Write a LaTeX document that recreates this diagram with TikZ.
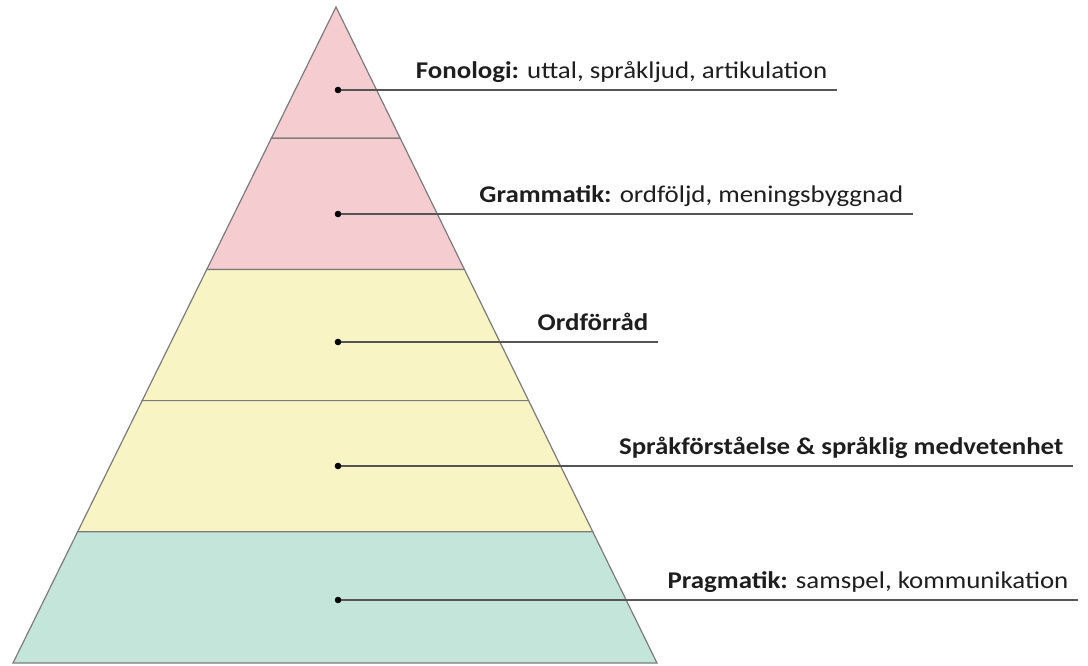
\documentclass[tikz,border=0pt]{standalone}
\usepackage{fontspec}
\setmainfont{Carlito}[FakeStretch=1.12]
\usetikzlibrary{calc}

\definecolor{rosa}{HTML}{F5CDD0}
\definecolor{gul}{HTML}{F8F4C4}
\definecolor{mint}{HTML}{C4E5D9}
\definecolor{kant}{HTML}{7C7C7C}
\definecolor{linje}{HTML}{555555}
\definecolor{skrift}{HTML}{1E1E1E}

\tikzset{
  lager/.style={fill=#1, draw=kant, line width=1.2pt},
  pil/.style={draw=linje, line width=1.4pt},
  etikett/.style={anchor=base east, inner sep=0pt, xshift=-9pt, yshift=12pt,
    text=skrift, font=\fontsize{24}{28}\selectfont}
}

\begin{document}
\begin{tikzpicture}[x=1pt,y=-1pt]
 \useasboundingbox (0,0) rectangle (1088,665);
 \fill[white] (0,0) rectangle (1088,665);

 % pyramidens hoerne
 \coordinate (top) at (336,7);
 \coordinate (vb) at (13,663);
 \coordinate (hb) at (657,663);

 % lagren, uppifraan och ned
 \foreach \a/\b/\c in {0/0.2/rosa, 0.2/0.4/rosa, 0.4/0.6/gul, 0.6/0.8/gul, 0.8/1/mint}
  \draw[lager=\c] ($(top)!\a!(vb)$) -- ($(top)!\b!(vb)$)
    -- ($(top)!\b!(hb)$) -- ($(top)!\a!(hb)$) -- cycle;

 % punkter och linjer
 \coordinate (p1) at (338,90);  \coordinate (s1) at (837,90);
 \coordinate (p2) at (338,214); \coordinate (s2) at (913,214);
 \coordinate (p3) at (338,342); \coordinate (s3) at (658,342);
 \coordinate (p4) at (338,466); \coordinate (s4) at (1073,466);
 \coordinate (p5) at (338,600); \coordinate (s5) at (1078,600);

 \draw[pil] (p1) -- (s1) node[etikett] (fonologi) {\textbf{Fonologi:} uttal, språkljud, artikulation};
 \draw[pil] (p2) -- (s2) node[etikett] (grammatik) {\textbf{Grammatik:} ordföljd, meningsbyggnad};
 \draw[pil] (p3) -- (s3) node[etikett] (ordforrad) {\textbf{Ordförråd}};
 \draw[pil] (p4) -- (s4) node[etikett] (forstaelse) {\textbf{Språkförståelse \& språklig medvetenhet}};
 \draw[pil] (p5) -- (s5) node[etikett] (pragmatik) {\textbf{Pragmatik:} samspel, kommunikation};

 \foreach \p in {p1,p2,p3,p4,p5}
  \fill[black] (\p) circle (3.3);
\end{tikzpicture}
\end{document}
